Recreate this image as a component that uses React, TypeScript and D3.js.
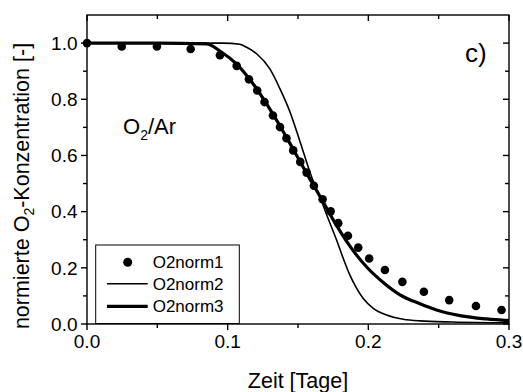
import React from "react";
import * as d3 from "d3";

const dotT = [0.0, 0.0247, 0.0497, 0.0737, 0.0945, 0.1064, 0.1151, 0.121, 0.1262, 0.1322, 0.1372, 0.1418, 0.1466, 0.1516, 0.1561, 0.1613, 0.1675, 0.1732, 0.1786, 0.1855, 0.1928, 0.2006, 0.2118, 0.2242, 0.2395, 0.2575, 0.2765, 0.2947];
const dotV = [1.0, 0.988, 0.988, 0.979, 0.957, 0.919, 0.871, 0.831, 0.79, 0.742, 0.701, 0.661, 0.618, 0.577, 0.539, 0.492, 0.444, 0.401, 0.359, 0.314, 0.272, 0.233, 0.192, 0.15, 0.115, 0.085, 0.064, 0.05];

const thinT = [0, 0.05, 0.0967, 0.1087, 0.1135, 0.1206, 0.13, 0.1372, 0.1443, 0.1514, 0.1597, 0.1656, 0.1703, 0.1775, 0.1822, 0.1869, 0.1917, 0.1964, 0.2035, 0.213, 0.2248, 0.2367, 0.26, 0.3];
const thinV = [1, 1, 1, 0.996, 0.985, 0.962, 0.908, 0.837, 0.755, 0.65, 0.523, 0.452, 0.39, 0.298, 0.233, 0.174, 0.127, 0.091, 0.056, 0.032, 0.017, 0.011, 0.007, 0.004];

const thickT = [0, 0.05, 0.085, 0.095, 0.1064, 0.1151, 0.1262, 0.1372, 0.1466, 0.1561, 0.1656, 0.1775, 0.1869, 0.1988, 0.2106, 0.2225, 0.2367, 0.2485, 0.2651, 0.2841, 0.3];
const thickV = [1, 1, 0.997, 0.97, 0.925, 0.875, 0.795, 0.705, 0.622, 0.537, 0.455, 0.35, 0.277, 0.203, 0.148, 0.104, 0.072, 0.05, 0.03, 0.018, 0.012];

const xMajor = [0, 0.1, 0.2, 0.3];
const xMinor = [0.05, 0.15, 0.25];
const yMajor = [0, 0.2, 0.4, 0.6, 0.8, 1.0];
const yMinor = [0.1, 0.3, 0.5, 0.7, 0.9];

const legendNames = ["O2norm1", "O2norm2", "O2norm3"];

const FONT = "'Liberation Sans', Arial, sans-serif";

export default function App() {
  const W = 523, H = 392;
  const L = 87, R = 509, T = 15, B = 324;
  const x = d3.scaleLinear().domain([0, 0.3]).range([L, R]);
  const y = d3.scaleLinear().domain([0, 1.1]).range([B, T]);
  const line = d3.line<[number, number]>()
    .x(d => x(d[0]))
    .y(d => y(d[1]))
    .curve(d3.curveMonotoneX);
  const thinPts = thinT.map((t, i) => [t, thinV[i]] as [number, number]);
  const thickPts = thickT.map((t, i) => [t, thickV[i]] as [number, number]);
  const maj = 6, mnr = 4;

  return (
    <div style={{ position: "fixed", left: 0, top: 0 }}>
      <svg width={W} height={H} style={{ display: "block", background: "#fff" }} fontFamily={FONT}>
        <rect x={0} y={0} width={W} height={H} fill="#fff" />
        {/* curves */}
        <path d={line(thinPts) || ""} fill="none" stroke="#000" strokeWidth={1.6} />
        <path d={line(thickPts) || ""} fill="none" stroke="#000" strokeWidth={3.2} />
        {dotT.map((t, i) => (
          <circle key={i} cx={x(t)} cy={y(dotV[i])} r={4.3} fill="#000" />
        ))}
        {/* frame */}
        <rect x={L} y={T} width={R - L} height={B - T} fill="none" stroke="#000" strokeWidth={1.4} />
        {/* bottom ticks (outward) and top ticks (inward) */}
        {xMajor.map(v => (
          <g key={"xM" + v}>
            <line x1={x(v)} x2={x(v)} y1={B} y2={B + maj} stroke="#000" strokeWidth={1.4} />
            <line x1={x(v)} x2={x(v)} y1={T} y2={T + maj} stroke="#000" strokeWidth={1.4} />
            <text x={x(v)} y={348} textAnchor="middle" fontSize={19}>{v.toFixed(1)}</text>
          </g>
        ))}
        {xMinor.map(v => (
          <g key={"xm" + v}>
            <line x1={x(v)} x2={x(v)} y1={B} y2={B + mnr} stroke="#000" strokeWidth={1.4} />
            <line x1={x(v)} x2={x(v)} y1={T} y2={T + mnr} stroke="#000" strokeWidth={1.4} />
          </g>
        ))}
        {/* left ticks (outward) and right ticks (inward) */}
        {yMajor.map(v => (
          <g key={"yM" + v}>
            <line x1={L - maj} x2={L} y1={y(v)} y2={y(v)} stroke="#000" strokeWidth={1.4} />
            <line x1={R - maj} x2={R} y1={y(v)} y2={y(v)} stroke="#000" strokeWidth={1.4} />
            <text x={77.5} y={y(v)} dy="0.36em" textAnchor="end" fontSize={19}>{v.toFixed(1)}</text>
          </g>
        ))}
        {yMinor.map(v => (
          <g key={"ym" + v}>
            <line x1={L - mnr} x2={L} y1={y(v)} y2={y(v)} stroke="#000" strokeWidth={1.4} />
            <line x1={R - mnr} x2={R} y1={y(v)} y2={y(v)} stroke="#000" strokeWidth={1.4} />
          </g>
        ))}
        {/* axis titles */}
        <text x={(L + R) / 2} y={388} textAnchor="middle" fontSize={21.5}>Zeit [Tage]</text>
        <text transform="translate(29,186) rotate(-90)" textAnchor="middle" fontSize={21.5}>
          normierte O<tspan fontSize={14} dy={5}>2</tspan><tspan dy={-5}>-Konzentration [-]</tspan>
        </text>
        {/* annotations */}
        <text x={465} y={62} fontSize={26}>c)</text>
        <text x={123} y={134} fontSize={22}>
          O<tspan fontSize={14} dy={6}>2</tspan><tspan dy={-6}>/Ar</tspan>
        </text>
        {/* legend */}
        <rect x={95.7} y={245} width={143.6} height={78.5} fill="#fff" stroke="#000" strokeWidth={1} />
        <circle cx={127.7} cy={262.3} r={4.5} fill="#000" />
        <line x1={107} x2={147.7} y1={283.8} y2={283.8} stroke="#000" strokeWidth={1.6} />
        <line x1={107} x2={147.7} y1={306.3} y2={306.3} stroke="#000" strokeWidth={3.2} />
        {legendNames.map((n, i) => (
          <text key={n} x={152.7} y={[262.3, 283.8, 306.3][i]} dy="0.36em" fontSize={17}>{n}</text>
        ))}
      </svg>
    </div>
  );
}
